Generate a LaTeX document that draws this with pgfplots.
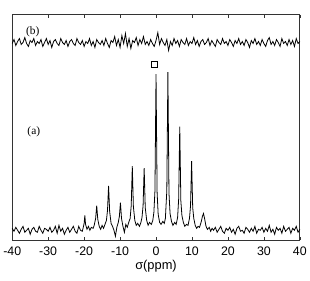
\documentclass[border=0pt]{standalone}
\usepackage{fontspec}
\setmainfont{Liberation Sans}
\newfontfamily\seriffont{Liberation Serif}
\usepackage{pgfplots}
\pgfplotsset{compat=1.18}
\begin{document}
\begin{tikzpicture}
\begin{axis}[
  scale only axis, width=291pt, height=228pt,
  xmin=-40, xmax=40, ymin=0, ymax=228,
  xtick={-40,-30,...,40}, ytick=\empty,
  tick align=inside, major tick length=3pt,
  xtick pos=both,
  /pgf/number format/assume math mode=true,
  ticklabel style={font=\fontsize{12.5}{13}\selectfont},
  xticklabel style={yshift=-3pt},
  xlabel={σ(ppm)}, xlabel style={font=\fontsize{13}{14}\selectfont, yshift=2pt},
  axis line style={line width=0.7pt, black!80},
  every tick/.style={black!80, line width=0.6pt},
  clip=false,
]
\addplot[black, line width=0.8pt] coordinates {
(-40,12)(-39.5,9)(-39,13)(-38.5,10)(-38,7)(-37.5,11)(-37,14)(-36.5,8)(-36,10)(-35.5,12)
(-35,6)(-34.5,11)(-34,13)(-33.5,9)(-33,8)(-32.5,14)(-32,10)(-31.5,7)(-31,12)(-30.5,11)
(-30,9)(-29.5,13)(-29,8)(-28.5,10)(-28,14)(-27.5,7)(-27,15)(-26.5,9)(-26,12)(-25.5,6)
(-25,10)(-24.5,13)(-24,8)(-23.5,11)(-23,14)(-22.5,9)(-22,7)(-21.5,14)(-21,10)(-20.5,9)
(-20.3,12)(-20.0,17)(-19.8,25)(-19.6,16)(-19.2,11)(-18.8,14)(-18.4,10)(-18.0,13)(-17.5,12)
(-17.2,15)(-16.8,22)(-16.5,35)(-16.2,21)(-15.8,14)(-15.4,11)(-15.0,15)(-14.6,12)(-14.2,16)
(-13.8,20)(-13.5,30)(-13.2,55)(-12.9,29)(-12.5,17)(-12.1,14)(-11.7,10)(-11.3,4)(-10.9,13)(-10.5,18)
(-10.2,24)(-9.9,38)(-9.6,22)(-9.2,14)(-8.8,8)(-8.4,16)(-8.0,13)(-7.6,18)
(-7.2,22)(-6.9,35)(-6.6,75)(-6.3,34)(-5.9,20)(-5.5,15)(-5.1,17)(-4.6,14)(-4.2,18)
(-3.9,23)(-3.6,35)(-3.3,73)(-3.0,33)(-2.6,20)(-2.2,15)(-1.8,18)(-1.3,16)(-0.9,20)
(-0.6,28)(-0.3,50)(0,168)(0.3,48)(0.6,26)(1.0,18)(1.4,16)(1.9,19)(2.3,17)(2.6,22)
(3.0,50)(3.3,170)(3.6,48)(3.9,27)(4.3,19)(4.7,15)(5.2,18)(5.6,16)(6.0,23)
(6.3,42)(6.6,115)(6.9,40)(7.2,25)(7.6,18)(8.0,14)(8.5,16)(8.9,15)(9.3,22)
(9.6,35)(9.9,80)(10.2,33)(10.5,22)(10.9,15)(11.3,12)(11.7,14)(12.1,13)(12.6,19)
(12.9,24)(13.2,27)(13.5,22)(13.9,14)(14.3,11)(14.8,13)(15.2,9)(15.6,12)(16.0,10)
(16.5,13)(17,8)(17.5,11)(18,14)(18.5,9)(19,7)(19.5,12)(20,10)(20.5,13)(21,8)
(21.5,11)(22,6)(22.5,12)(23,14)(23.5,9)(24,10)(24.5,7)(25,13)(25.5,11)(26,8)
(26.5,12)(27,9)(27.5,14)(28,7)(28.5,11)(29,10)(29.5,13)(30,8)(30.5,12)(31,9)
(31.5,15)(32,8)(32.5,11)(33,6)(33.5,13)(34,10)(34.5,12)(35,7)(35.5,14)(36,9)
(36.5,11)(37,13)(37.5,7)(38,12)(38.5,10)(39,14)(39.5,8)(40,11)
};
\addplot[black, line width=0.8pt] coordinates {
(-40,199)(-39.5,203)(-39,197)(-38.5,201)(-38,204)(-37.5,198)(-37,200)(-36.5,205)(-36,199)(-35.5,196)
(-35,202)(-34.5,200)(-34,204)(-33.5,197)(-33,201)(-32.5,199)(-32,203)(-31.5,196)(-31,200)(-30.5,204)
(-30,198)(-29.5,202)(-29,195)(-28.5,201)(-28,203)(-27.5,199)(-27,197)(-26.5,204)(-26,200)(-25.5,198)
(-25,202)(-24.5,196)(-24,201)(-23.5,203)(-23,199)(-22.5,197)(-22,204)(-21.5,200)(-21,198)(-20.5,202)
(-20,196)(-19.5,201)(-19,199)(-18.5,204)(-18,197)(-17.5,201)(-17,195)(-16.5,203)(-16,200)(-15.5,198)
(-15,202)(-14.5,197)(-14,204)(-13.5,199)(-13,195)(-12.5,202)(-12,200)(-11.5,206)(-11,197)(-10.5,203)
(-10,195)(-9.5,207)(-9,199)(-8.5,209)(-8,196)(-7.5,204)(-7,194)(-6.5,202)(-6,200)(-5.5,205)
(-5,197)(-4.5,203)(-4,199)(-3.5,206)(-3,198)(-2.5,201)(-2,197)(-1.5,203)(-1,199)(-0.5,196)
(0,202)(0.5,210)(1,198)(1.5,204)(2,200)(2.5,197)(3,203)(3.5,192)(4,201)(4.5,197)
(5,204)(5.5,199)(6,202)(6.5,196)(7,203)(7.5,200)(8,198)(8.5,204)(9,197)(9.5,201)
(10,199)(10.5,205)(11,198)(11.5,202)(12,196)(12.5,201)(13,203)(13.5,198)(14,200)(14.5,204)
(15,197)(15.5,202)(16,199)(16.5,196)(17,203)(17.5,200)(18,198)(18.5,204)(19,199)(19.5,201)
(20,197)(20.5,203)(21,200)(21.5,196)(22,202)(22.5,199)(23,204)(23.5,198)(24,201)(24.5,197)
(25,203)(25.5,200)(26,195)(26.5,202)(27,199)(27.5,204)(28,198)(28.5,201)(29,197)(29.5,203)
(30,199)(30.5,196)(31,202)(31.5,205)(32,198)(32.5,201)(33,197)(33.5,203)(34,200)(34.5,196)
(35,204)(35.5,199)(36,201)(36.5,197)(37,203)(37.5,198)(38,202)(38.5,196)(39,204)(39.5,199)
(40,201)
};
\addplot[only marks, mark=square, mark size=3pt, mark options={black, line width=0.5pt}] coordinates {(-0.4,178)};
\node[font=\seriffont\fontsize{11.5}{12}\selectfont] at (axis cs:-34.3,211) {(b)};
\node[font=\seriffont\fontsize{11.5}{12}\selectfont] at (axis cs:-34.0,110) {(a)};
\end{axis}
\path (current axis.north west) ++(0,15pt);
\path (current axis.south west) ++(0,-41pt);
\end{tikzpicture}
\end{document}
